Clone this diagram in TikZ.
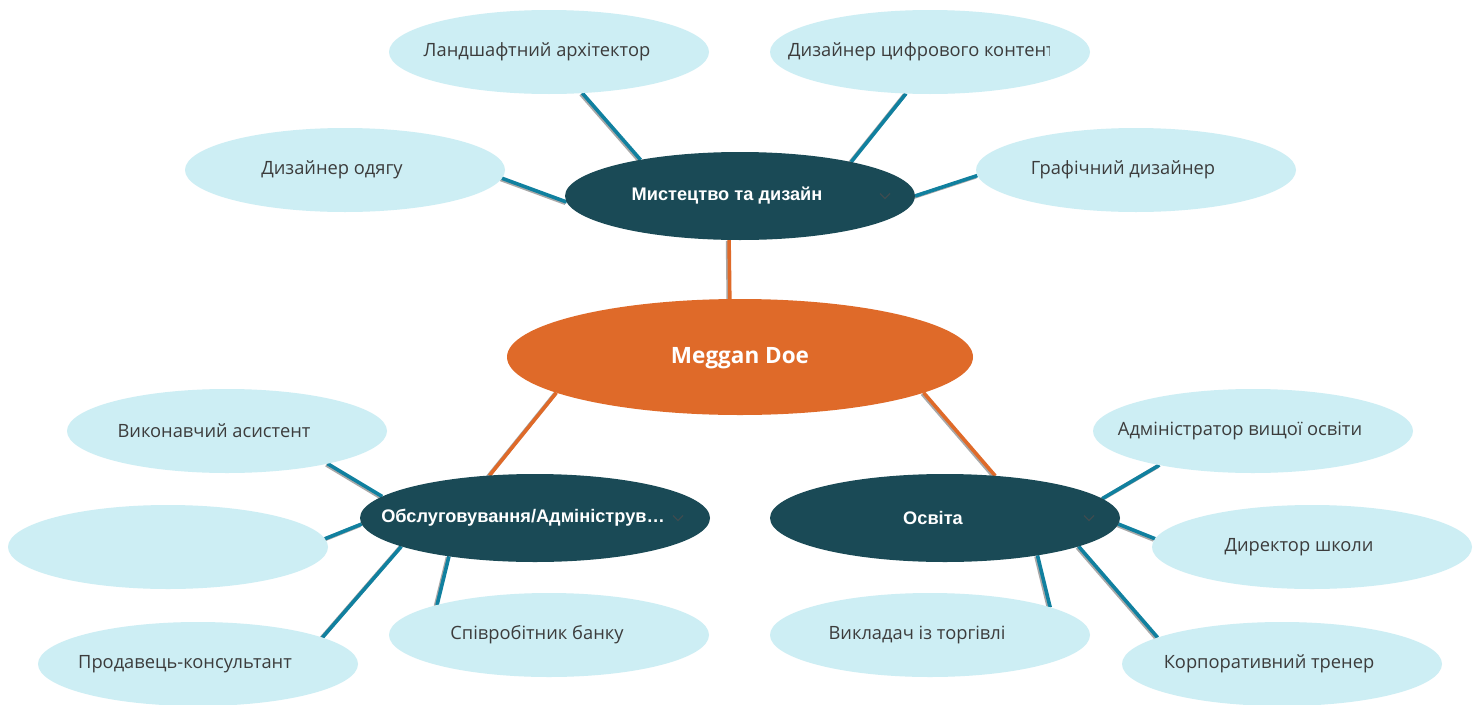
\documentclass[tikz,border=0pt]{standalone}
\usepackage{fontspec}
\setmainfont{Open Sans}
\newfontfamily\catfont{Liberation Sans}
\usetikzlibrary{shapes.geometric}
\pgfdeclarelayer{bg}
\pgfsetlayers{bg,main}
\definecolor{leafc}{HTML}{CDEEF4}
\definecolor{catc}{HTML}{1A4A56}
\definecolor{rootc}{HTML}{DF6A29}
\definecolor{tealc}{HTML}{10809F}
\definecolor{leaftxt}{HTML}{3C3C3C}
\definecolor{chevc}{HTML}{3E4C50}
\definecolor{shadc}{HTML}{A8A8A8}
\tikzset{
  leafnode/.style={ellipse, fill=leafc, minimum width=320pt, minimum height=84pt, inner sep=0pt, outer sep=0pt},
  catnode/.style={ellipse, fill=catc, minimum width=350pt, minimum height=88pt, inner sep=0pt, outer sep=0pt},
  rootnode/.style={ellipse, fill=rootc, minimum width=466pt, minimum height=116pt, inner sep=0pt, outer sep=0pt},
  leaftext/.style={font=\fontsize{18.3}{20}\selectfont, text=leaftxt, inner sep=0pt},
  cattext/.style={font=\catfont\bfseries\fontsize{18.2}{20}\selectfont, text=white, inner sep=0pt},
  roottext/.style={font=\bfseries\fontsize{22.5}{26}\selectfont, text=white, inner sep=0pt},
  chev/.style={draw=chevc, line width=1.1pt},
  tealline/.style={draw=tealc},
  orangeline/.style={draw=rootc},
}
\newcommand\conn[3]{%
  \draw[line width=4pt, shadc] ([xshift=-1.3pt,yshift=-1pt]#1) -- ([xshift=-1.3pt,yshift=-1pt]#2);
  \draw[line width=3.6pt, #3] (#1) -- (#2);}
\begin{document}
\begin{tikzpicture}[x=1pt,y=-1pt]
\useasboundingbox (0,0) rectangle (1480,704);
% root and categories
\node[rootnode] (C) at (740,357) {};
\node[catnode] (M) at (740,196) {};
\node[catnode] (O) at (535,518) {};
\node[catnode] (E) at (945,518) {};
% leaves
\node[leafnode] (L1) at (549,52) {};
\node[leafnode] (L2) at (930,52) {};
\node[leafnode] (L3) at (345,170) {};
\node[leafnode] (L4) at (1136,170) {};
\node[leafnode] (L5) at (227,431) {};
\node[leafnode] (L6) at (168,547) {};
\node[leafnode] (L7) at (198,664) {};
\node[leafnode] (L8) at (549,635) {};
\node[leafnode] (L9) at (1253,431) {};
\node[leafnode] (L10) at (1312,547) {};
\node[leafnode] (L11) at (1282,664) {};
\node[leafnode] (L12) at (930,635) {};
% connectors
\begin{pgfonlayer}{bg}
\fill[white] (0,0) rectangle (1480,704);
\conn{C.100.7}{M.-104}{orangeline}
\conn{C.191.4}{O.137.7}{orangeline}
\conn{C.-11.2}{E.40.7}{orangeline}
\conn{L1.-51.7}{M.160.2}{tealline}
\conn{L2.-120.2}{M.17.5}{tealline}
\conn{L3.-3}{M.182}{tealline}
\conn{L4.182}{M.0}{tealline}
\conn{L5.-18.6}{O.172.3}{tealline}
\conn{L6.3.2}{O.182.6}{tealline}
\conn{L7.12.6}{O.192.2}{tealline}
\conn{L8.165.6}{O.204.7}{tealline}
\conn{L9.200.6}{E.7.4}{tealline}
\conn{L10.177.5}{E.-2}{tealline}
\conn{L11.168.3}{E.-12}{tealline}
\conn{L12.13.7}{E.-22.4}{tealline}
\end{pgfonlayer}
% texts
\node[roottext] (Ct) at ([yshift=-1.5pt]C.center) {Meggan Doe};
\node[cattext] (Mt) at ([xshift=-13pt]M.center) {Мистецтво та дизайн};
\node[cattext] (Ot) at ([xshift=-12pt]O.center) {Обслуговування/Адмініструв…};
\node[cattext] (Et) at ([xshift=-12pt]E.center) {Освіта};
\draw[chev] ([xshift=140pt,yshift=2.5pt]M.center) -- ++(5,5) -- ++(5,-5);
\draw[chev] ([xshift=138pt,yshift=2.5pt]O.center) -- ++(5,5) -- ++(5,-5);
\draw[chev] ([xshift=139pt,yshift=2.5pt]E.center) -- ++(5,5) -- ++(5,-5);
\node[leaftext] (L1t) at ([xshift=-12pt]L1.center) {Ландшафтний архітектор};
\begin{scope}
\clip (771,0) rectangle (1049,110);
\node[leaftext, anchor=west] (L2t) at ([xshift=-142pt]L2.center) {Дизайнер цифрового контенту};
\end{scope}
\node[leaftext] (L3t) at ([xshift=-13pt]L3.center) {Дизайнер одягу};
\node[leaftext] (L4t) at ([xshift=-13pt]L4.center) {Графічний дизайнер};
\node[leaftext] (L5t) at ([xshift=-13pt]L5.center) {Виконавчий асистент};
\node[leaftext] (L7t) at ([xshift=-13pt]L7.center) {Продавець-консультант};
\node[leaftext] (L8t) at ([xshift=-12pt]L8.center) {Співробітник банку};
\node[leaftext] (L9t) at ([xshift=-13pt]L9.center) {Адміністратор вищої освіти};
\node[leaftext] (L10t) at ([xshift=-13pt]L10.center) {Директор школи};
\node[leaftext] (L11t) at ([xshift=-13pt]L11.center) {Корпоративний тренер};
\node[leaftext] (L12t) at ([xshift=-13pt]L12.center) {Викладач із торгівлі};
\end{tikzpicture}
\end{document}
